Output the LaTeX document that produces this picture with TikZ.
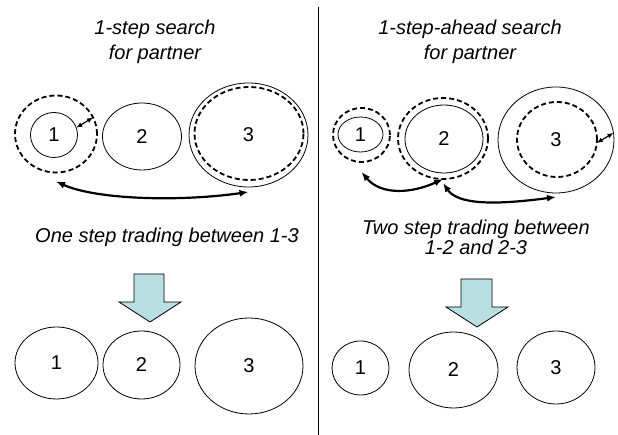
\documentclass[tikz,border=0pt]{standalone}
\usepackage{fontspec}
\setmainfont{Liberation Sans}
\usetikzlibrary{shapes.geometric,arrows.meta}
\definecolor{arrowblue}{RGB}{184,223,225}

\begin{document}
\begin{tikzpicture}[x=1pt, y=1pt,
    agent/.style={ellipse, draw, line width=0.8pt, inner sep=0pt, outer sep=0pt, font=\fontsize{20}{24}\selectfont},
    reach/.style={ellipse, draw, line width=1.8pt, dash pattern=on 5pt off 3pt, inner sep=0pt, outer sep=0pt},
    trade/.style={{Latex[length=9pt,width=7pt]}-{Latex[length=9pt,width=7pt]}, line width=2.2pt},
    probe/.style={{Latex[length=6pt,width=5pt]}-{Latex[length=6pt,width=5pt]}, line width=1.2pt},
    heading/.style={font=\fontsize{20}{25}\selectfont\itshape, align=center},
    bigarrow/.style={draw, line width=0.8pt, fill=arrowblue}]
                \useasboundingbox (0,0) rectangle (618,435);

                % Divider
                \draw[line width=1pt] (318,428) -- (318,0);

                % Titles
                \node[heading] (titleL) at (155,393) {1-step search\\for partner};
                \node[heading] (titleR) at (470,393) {1-step-ahead search\\for partner};

                % Before trading, left
                \node[reach, minimum width=82, minimum height=77] (a1d) at (56,301) {};
                \node[agent, minimum width=47, minimum height=45] (a1) at (54,300) {1};
                \node[agent, minimum width=79, minimum height=67] (a2) at (142,298.5) {2};
                \node[agent, minimum width=119, minimum height=104] (a3) at (248.5,300) {3};
                \node[reach, minimum width=109, minimum height=93] (a3d) at (249,301.5) {};

                % Before trading, right
                \node[reach, minimum width=57, minimum height=54] (b1d) at (361.5,300) {};
                \node[agent, minimum width=45, minimum height=35] (b1) at (360.5,300.5) {1};
                \node[reach, minimum width=90, minimum height=81] (b2d) at (443,296.5) {};
                \node[agent, minimum width=78, minimum height=68] (b2) at (444,296) {2};
                \node[agent, minimum width=116, minimum height=106] (b3) at (556,295) {3};
                \node[reach, minimum width=80, minimum height=75] (b3d) at (557,295.5) {};

                % Edges
                \draw[probe] (a1.18) -- (a1d.24);
                \draw[probe] (b3d.-5) -- (b3.7);
                \draw[trade] ([yshift=-9pt]a1d.south) .. controls +(40,-18) and +(-70,-10) .. ([yshift=-5pt]a3.south);
                \draw[trade] ([yshift=-10pt]b1d.south) .. controls +(20,-24) and +(-30,-14) .. (b2d.south);
                \draw[trade] ([yshift=-4pt]b2d.south) .. controls +(15,-22) and +(-60,-8) .. ([yshift=-4pt]b3.south);

                % Captions
                \node[heading] (tradeL) at (167,198) {One step trading between 1-3};
                \node[heading, font=\fontsize{20}{20}\selectfont\itshape] (tradeR) at (476,198) {Two step trading between\\1-2 and 2-3};

                % Big arrows
                \draw[bigarrow] (134,161) -- (164,161) -- (164,133) -- (181,133) -- (150,113) -- (119,133) -- (134,133) -- cycle;
                \draw[bigarrow] (461,156) -- (492,156) -- (492,128) -- (508,128) -- (477,108) -- (446,128) -- (461,128) -- cycle;

                % After trading
                \node[agent, minimum width=83, minimum height=72] (c1) at (56.5,72) {1};
                \node[agent, minimum width=77, minimum height=68] (c2) at (141.5,70) {2};
                \node[agent, minimum width=108, minimum height=96] (c3) at (249,69) {3};
                \node[agent, minimum width=57, minimum height=54] (d1) at (360.5,67) {1};
                \node[agent, minimum width=89, minimum height=76] (d2) at (453.5,65) {2};
                \node[agent, minimum width=78, minimum height=73] (d3) at (556,67.5) {3};
            \end{tikzpicture}
\end{document}
